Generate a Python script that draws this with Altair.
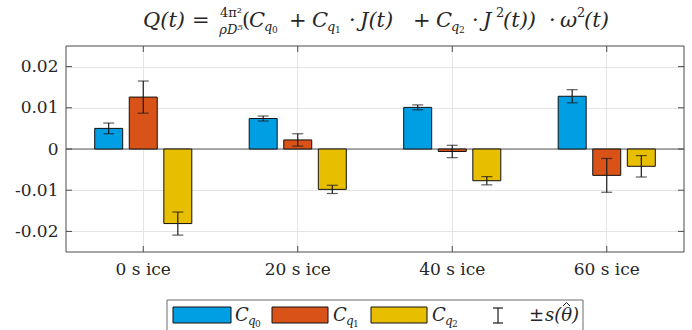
import altair as alt
import pandas as pd

# ---------------- data ----------------
categories = ["0 s ice", "20 s ice", "40 s ice", "60 s ice"]
series = ["Cq0", "Cq1", "Cq2"]
cq0 = [0.0050, 0.0074, 0.0101, 0.0128]
cq1 = [0.0126, 0.0022, -0.0006, -0.0064]
cq2 = [-0.0181, -0.0098, -0.0077, -0.0042]
s_cq0 = [0.0013, 0.0006, 0.0006, 0.0016]
s_cq1 = [0.0039, 0.0015, 0.0015, 0.0041]
s_cq2 = [0.0028, 0.0010, 0.0010, 0.0026]
y_ticks = [-0.02, -0.01, 0, 0.01, 0.02]
colors = ["#009FE3", "#D95319", "#E8BF00"]

rows = []
for name, vals, errs in zip(series, [cq0, cq1, cq2], [s_cq0, s_cq1, s_cq2]):
    for c, v, e in zip(categories, vals, errs):
        rows.append({"category": c, "series": name, "value": v, "lo": v - e, "hi": v + e})
df = pd.DataFrame(rows)
ydf = pd.DataFrame({"value": y_ticks})
zdf = pd.DataFrame({"value": [0]})
xdf = pd.DataFrame({"category": categories})
one = pd.DataFrame({"a": [1]})

# ---------------- layout ----------------
W, H = 618, 206
L, T = 66, 46
FONT = "DejaVu Serif"
INK = "#262626"
FRAME = "#4a4a4a"
GRID = "#e4e4e4"

x_enc = alt.X(
    "category:N", sort=categories,
    scale=alt.Scale(domain=categories, paddingInner=0, paddingOuter=0),
    axis=alt.Axis(title=None, labelAngle=0, labelFont=FONT, labelFontSize=17,
                  labelColor=INK, ticks=False, domain=False, grid=True,
                  gridColor=GRID, gridWidth=1, labelPadding=9),
)
xo_enc = alt.XOffset("series:N", sort=series,
                     scale=alt.Scale(domain=series, paddingInner=0.19, paddingOuter=0.83))
y_scale = alt.Scale(domain=[-0.025, 0.025], nice=False, zero=False)
y_axis = alt.Axis(
    title=None, values=y_ticks,
    labelExpr="datum.value == 0 ? '0' : (datum.value < 0 ? '-' : '') + format(abs(datum.value), '.2f')",
    labelFont=FONT, labelFontSize=17, labelColor=INK, ticks=False, domain=False,
    grid=True, gridColor=GRID, gridWidth=1, labelPadding=8,
)
color_enc = alt.Color("series:N", scale=alt.Scale(domain=series, range=colors), legend=None)

zero_line = alt.Chart(zdf).mark_rule(color="#5a5a5a", strokeWidth=1).encode(
    y=alt.Y("value:Q", scale=y_scale, axis=y_axis), x=alt.value(0), x2=alt.value(W))

bars = alt.Chart(df).mark_bar(stroke="#111111", strokeWidth=1).encode(
    x=x_enc, xOffset=xo_enc,
    y=alt.Y("value:Q", scale=y_scale, axis=y_axis), y2=alt.Y2(datum=0),
    color=color_enc,
)
err = alt.Chart(df).mark_rule(color="#1a1a1a", strokeWidth=1.2).encode(
    x=x_enc, xOffset=xo_enc,
    y=alt.Y("lo:Q", scale=y_scale, axis=y_axis), y2="hi:Q")
cap_lo = alt.Chart(df).mark_tick(color="#1a1a1a", thickness=1.2, size=11).encode(
    x=x_enc, xOffset=xo_enc, y=alt.Y("lo:Q", scale=y_scale, axis=y_axis))
cap_hi = alt.Chart(df).mark_tick(color="#1a1a1a", thickness=1.2, size=11).encode(
    x=x_enc, xOffset=xo_enc, y=alt.Y("hi:Q", scale=y_scale, axis=y_axis))

frame = alt.Chart(one).mark_rect(filled=False, stroke=FRAME, strokeWidth=1).encode(
    x=alt.value(0), x2=alt.value(W), y=alt.value(0), y2=alt.value(H))

def ytick(x0, x1):
    return alt.Chart(ydf).mark_rule(color=FRAME, strokeWidth=1).encode(
        y=alt.Y("value:Q", scale=y_scale, axis=y_axis), x=alt.value(x0), x2=alt.value(x1))

def xtick(y0, y1):
    return alt.Chart(xdf).mark_rule(color=FRAME, strokeWidth=1).encode(
        x=x_enc, y=alt.value(y0), y2=alt.value(y1))

ticks = [ytick(0, 6), ytick(W - 6, W), xtick(0, 6), xtick(H - 6, H)]

# ---------------- decorations (absolute page coords -> plot coords) ----------------
def box(x0, x1, y0, y1, fill=None, stroke="#111111", sw=1):
    if fill is None:
        m = alt.Chart(one).mark_rect(filled=False, stroke=stroke, strokeWidth=sw)
    else:
        m = alt.Chart(one).mark_rect(fill=fill, stroke=stroke, strokeWidth=sw)
    return m.encode(x=alt.value(x0 - L), x2=alt.value(x1 - L),
                    y=alt.value(y0 - T), y2=alt.value(y1 - T))

def seg(x0, y0, x1, y1, color="#1a1a1a", sw=1.2):
    return alt.Chart(one).mark_rule(color=color, strokeWidth=sw).encode(
        x=alt.value(x0 - L), x2=alt.value(x1 - L), y=alt.value(y0 - T), y2=alt.value(y1 - T))

def txt(s, x, y, size, italic=False, align="left"):
    return alt.Chart(one).mark_text(
        text=s, align=align, baseline="alphabetic", font=FONT, fontSize=size,
        fontStyle="italic" if italic else "normal", color=INK,
    ).encode(x=alt.value(x - L), y=alt.value(y - T))

legend = [
    box(167, 583, 300, 336, stroke="#6a6a6a"),
    box(173, 231, 307, 323, fill=colors[0]),
    box(272, 328, 307, 323, fill=colors[1]),
    box(371, 427, 307, 323, fill=colors[2]),
    seg(498, 308, 498, 323),
    seg(493, 308, 503, 308),
    seg(493, 323, 503, 323),
    txt("C", 235, 321, 18, True), txt("q", 248, 325, 12, True), txt("0", 255, 327, 9),
    txt("C", 333, 321, 18, True), txt("q", 346, 325, 12, True), txt("1", 353, 327, 9),
    txt("C", 432, 321, 18, True), txt("q", 445, 325, 12, True), txt("2", 452, 327, 9),
    txt("\u00b1", 529, 321, 18), txt("s(\u03b8)", 545, 321, 18, True),
    seg(563, 306, 566.5, 302.5, sw=1), seg(566.5, 302.5, 570, 306, sw=1),
]

B = 27
S = 21
title = [
    txt("Q(t)", 143, B, S, True), txt("=", 192, B, S),
    txt("4\u03c0\u00b2", 231, 17, 13, align="center"),
    txt("\u03c1D\u2075", 231, 34, 13, True, align="center"),
    txt("(", 242, B, S), txt("C", 249, B, S, True),
    txt("q", 264, 31, 13, True), txt("0", 272, 33, 9),
    txt("+", 289, B, S),
    txt("C", 312, B, S, True), txt("q", 327, 31, 13, True), txt("1", 335, 33, 9),
    txt("\u00b7", 349, B, S), txt("J(t)", 360, B, S, True),
    txt("+", 413, B, S),
    txt("C", 436, B, S, True), txt("q", 451, 31, 13, True), txt("2", 459, 33, 9),
    txt("\u00b7", 472, B, S), txt("J", 483, B, S, True), txt("2", 496, 17, 13),
    txt("(t))", 503, B, S, True),
    txt("\u00b7", 549, B, S), txt("\u03c9", 560, B, S, True), txt("2", 577, 17, 13),
    txt("(t)", 584, B, S, True),
]

chart = alt.layer(
    zero_line, bars, err, cap_lo, cap_hi, frame, *ticks, *legend, *title
).properties(
    width=W, height=H,
    autosize=alt.AutoSizeParams(type="none"),
    padding={"left": L, "top": T, "right": 692 - L - W, "bottom": 330 - T - H},
    background="white",
).configure_view(stroke=None)

chart.save("out.html", embed_options={"renderer": "svg", "actions": False})
